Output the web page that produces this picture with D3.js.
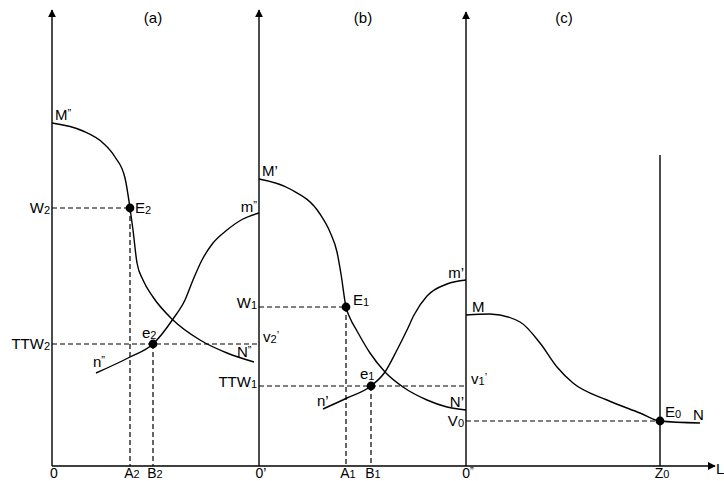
<!DOCTYPE html>
<html>
<head>
<meta charset="utf-8">
<script src="https://cdn.jsdelivr.net/npm/d3@7"></script>
<style>
  html, body { margin: 0; padding: 0; background: #fff; }
  svg text { font-family: "Liberation Sans", Arial, sans-serif; fill: #000; }
</style>
</head>
<body>
<svg id="chart" width="724" height="481"></svg>
<script>
// ---- data (abstract units: L along x, wage along y) ----
const panelLabels = ["(a)", "(b)", "(c)"];
const panelCenters = [101, 311, 512];
const originsX = [0, 207, 414];           // 0, 0', 0''
const axisTopY = 456;
const axisTopC = 454;                      // panel (c) axis height
const lEnd = 663;
const z0X = 608, z0Top = 311;

// panel (a): curve M''N'' and curve n''m''
const curveMN2 = [[0,343],[31,335],[51,323],[63,309],[73,288],[78,258],[81,236],[85,203],[91,186],[101,169],[121,146],[148,126],[175,113],[202,104]];
const curveNm2 = [[44,93],[78,109],[101,122],[121,147],[133,166],[141,186],[150,206],[161,223],[175,236],[191,247],[207,253]];
// panel (b)
const curveMN1 = [[207,287],[238,277],[268,252],[278,234],[285,214],[289,192],[294,159],[298,148],[305,135],[318,113],[333,94],[351,79],[375,66],[395,59],[414,56]];
const curveNm1 = [[271,57],[295,68],[319,80],[333,94],[345,116],[355,136],[362,151],[375,170],[395,182],[414,186]];
// panel (c)
const curveMN0 = [[414,151],[438,152],[468,144],[488,123],[505,99],[521,83],[555,66],[588,53],[608,45],[648,43]];

// equilibrium points
const points = [
  {name:"E2", x:78,  y:258, hFrom:0,   hTo:78,  vDash:true},
  {name:"e2", x:101, y:122, hFrom:0,   hTo:207, vDash:true},
  {name:"E1", x:294, y:159, hFrom:207, hTo:294, vDash:true},
  {name:"e1", x:319, y:80,  hFrom:207, hTo:414, vDash:true},
  {name:"E0", x:608, y:45,  hFrom:414, hTo:608, vDash:false}
];

// bottom tick labels
const xTicks = [
  {v:0,   t:[["0","n"]]},
  {v:78,  t:[["A","n"],["2","sub0"]]},
  {v:101, t:[["B","n"],["2","sub0"]]},
  {v:207, t:[["0","n"],["\u2019","n"]]},
  {v:294, t:[["A","n"],["1","sub0"]]},
  {v:319, t:[["B","n"],["1","sub0"]]},
  {v:414, t:[["0","n"],["\u201D","sup"]]},
  {v:608, t:[["Z","n"],["0","sub0"]]}
];

// ---- drawing ----
const svg = d3.select("#chart");
const x = d3.scaleLinear().domain([0, 661]).range([52, 713]);
const y = d3.scaleLinear().domain([0, 456]).range([466, 10]);

const FS = 15, SFS = 11;
function label(px, py, parts, anchor, fs) {
  const t = svg.append("text").attr("x", px).attr("y", py)
    .attr("font-size", fs || FS).attr("text-anchor", anchor || "start");
  let shift = 0;
  parts.forEach(([s, k]) => {
    const ts = t.append("tspan").text(s);
    if (k === "sub") { ts.attr("font-size", SFS).attr("dy", 1 - shift); shift = 1; }
    else if (k === "sub0") { ts.attr("font-size", SFS).attr("dy", -shift); shift = 0; }
    else if (k === "sup") { ts.attr("font-size", SFS).attr("dy", -3 - shift); shift = -3; }
    else { ts.attr("dy", -shift); shift = 0; }
  });
  return t;
}

// arrow marker
svg.append("defs").append("marker")
  .attr("id", "arr").attr("viewBox", "0 0 10 10").attr("refX", 9).attr("refY", 5)
  .attr("markerWidth", 8).attr("markerHeight", 8).attr("markerUnits", "userSpaceOnUse")
  .attr("orient", "auto")
  .append("path").attr("d", "M0,0 L10,5 L0,10 z").attr("fill", "#000");

const axisW = 1.4;
originsX.forEach((ox, i) => {
  const top = i === 2 ? axisTopC : axisTopY;
  svg.append("line").attr("x1", x(ox)).attr("x2", x(ox))
    .attr("y1", y(0)).attr("y2", y(top))
    .attr("stroke", "#000").attr("stroke-width", axisW)
    .attr("marker-end", "url(#arr)");
});
svg.append("line").attr("x1", x(0)).attr("x2", x(lEnd))
  .attr("y1", y(0)).attr("y2", y(0))
  .attr("stroke", "#000").attr("stroke-width", axisW)
  .attr("marker-end", "url(#arr)");
svg.append("line").attr("x1", x(z0X)).attr("x2", x(z0X))
  .attr("y1", y(0)).attr("y2", y(z0Top))
  .attr("stroke", "#000").attr("stroke-width", axisW);

// dashed guides
points.forEach(p => {
  svg.append("line").attr("x1", x(p.hFrom)).attr("x2", x(p.hTo))
    .attr("y1", y(p.y)).attr("y2", y(p.y))
    .attr("stroke", "#000").attr("stroke-width", 1.2).attr("stroke-dasharray", "5,3");
  if (p.vDash) {
    svg.append("line").attr("x1", x(p.x)).attr("x2", x(p.x))
      .attr("y1", y(p.y)).attr("y2", y(0))
      .attr("stroke", "#000").attr("stroke-width", 1.2).attr("stroke-dasharray", "5,3");
  }
});

// curves
const line = d3.line().x(d => x(d[0])).y(d => y(d[1])).curve(d3.curveMonotoneX);
[curveMN2, curveNm2, curveMN1, curveNm1, curveMN0].forEach(c => {
  svg.append("path").attr("d", line(c)).attr("fill", "none")
    .attr("stroke", "#000").attr("stroke-width", 1.4);
});

// points
points.forEach(p => {
  svg.append("circle").attr("cx", x(p.x)).attr("cy", y(p.y)).attr("r", 4.4).attr("fill", "#000");
});

// panel labels
panelLabels.forEach((s, i) => {
  svg.append("text").attr("x", x(panelCenters[i])).attr("y", 23)
    .attr("font-size", FS).attr("text-anchor", "middle").text(s);
});

// bottom ticks
xTicks.forEach(tk => label(x(tk.v) + 2, 478, tk.t, "middle", 14));
label(716, 474, [["L","n"]]);

// left axis labels
label(x(0) - 2, y(258) + 5, [["W","n"],["2","sub"]], "end");
label(x(0) - 2, y(122) + 5, [["TTW","n"],["2","sub"]], "end");
// middle axis labels
label(x(207) - 2, 212, [["m","n"],["\u201D","sup"]], "end");
label(x(207) - 2, y(159) + 1, [["W","n"],["1","sub"]], "end");
label(x(207) - 2, y(80) + 1, [["TTW","n"],["1","sub"]], "end");
label(x(207) + 4, y(122) - 2, [["v","n"],["2","sub"],["\u2019","sup"]]);
// right axis labels
label(x(414) - 2, 278, [["m","n"],["\u2019","n"]], "end");
label(x(414) - 2, 407, [["N","n"],["\u2019","n"]], "end");
label(x(414) - 2, y(45) + 5, [["V","n"],["0","sub"]], "end");
label(x(414) + 5, y(80) - 2, [["v","n"],["1","sub"],["\u2019","sup"]]);
label(x(414) + 6, 312, [["M","n"]]);

// curve end / point labels
label(x(0) + 3, 120, [["M","n"],["\u201D","sup"]]);
label(x(207) + 3, 176, [["M","n"],["\u2019","n"]]);
label(93, 367, [["n","n"],["\u201D","sup"]]);
label(237, 357, [["N","n"],["\u201D","sup"]]);
label(317, 406, [["n","n"],["\u2019","n"]]);
label(x(78) + 5, y(258) + 5, [["E","n"],["2","sub"]]);
label(x(101) - 11, 338, [["e","n"],["2","sub"]]);
label(x(294) + 7, 305, [["E","n"],["1","sub"]]);
label(x(319) - 11, 379, [["e","n"],["1","sub"]]);
label(x(608) + 5, 417, [["E","n"],["0","sub"]]);
label(693, 420, [["N","n"]]);
</script>
</body>
</html>
